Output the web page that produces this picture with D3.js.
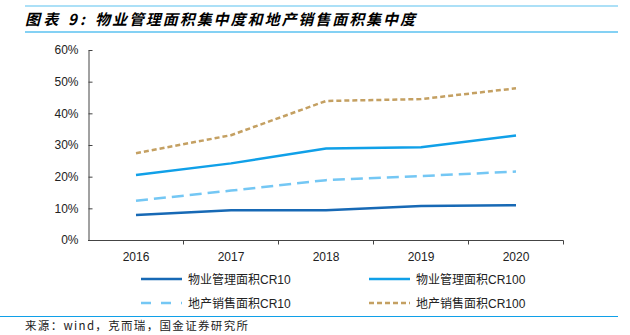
<!DOCTYPE html>
<html><head><meta charset="utf-8">
<script src="https://cdn.jsdelivr.net/npm/d3@7"></script>
<style>body{margin:0;background:#fff;} svg{display:block;}</style>
</head><body>
<svg id="c" width="630" height="335"></svg>
<script>
const years = ["2016","2017","2018","2019","2020"];
const pmCR10 = [7.9, 9.4, 9.4, 10.7, 11.0];
const pmCR100 = [20.5, 24.2, 28.9, 29.3, 33.0];
const reCR10 = [12.4, 15.6, 18.9, 20.2, 21.6];
const reCR100 = [27.4, 33.1, 43.9, 44.5, 47.9];
const yTicks = [0, 10, 20, 30, 40, 50, 60];
const seriesNames = ["物业管理面积CR10","物业管理面积CR100","地产销售面积CR10","地产销售面积CR100"];

const series = [
  {name: seriesNames[0], values: pmCR10, color: "#1769B5", dash: null, width: 2.5},
  {name: seriesNames[1], values: pmCR100, color: "#10A0E8", dash: null, width: 2.5},
  {name: seriesNames[2], values: reCR10, color: "#74C7F4", dash: "12,6", width: 2.5},
  {name: seriesNames[3], values: reCR100, color: "#C4A062", dash: "5,3", width: 2.5}
];

const svg = d3.select("#c");
const font = "Liberation Sans, Arial, 'Noto Sans CJK SC', sans-serif";
const cjk = "'Noto Sans CJK SC', sans-serif";

// header rules
svg.append("line").attr("x1",25).attr("x2",618).attr("y1",6).attr("y2",6).attr("stroke","#5BC2F0").attr("stroke-width",1.2);
svg.append("line").attr("x1",25).attr("x2",618).attr("y1",32).attr("y2",32).attr("stroke","#5BC2F0").attr("stroke-width",1.5);
svg.append("text").attr("x",25).attr("y",25).attr("font-family",cjk).attr("font-size",15).attr("font-weight","bold").attr("font-style","italic").attr("fill","#000").attr("textLength",60).attr("lengthAdjust","spacing").text("图表 9:");
svg.append("text").attr("x",95).attr("y",25).attr("font-family",cjk).attr("font-size",15).attr("font-weight","bold").attr("font-style","italic").attr("fill","#000").attr("textLength",320).attr("lengthAdjust","spacing").text("物业管理面积集中度和地产销售面积集中度");

const x = d3.scaleBand().domain(years).range([88.5, 563.5]);
const y = d3.scaleLinear().domain([0, 60]).range([240, 50]);

const g = svg.append("g");
// y axis
const yAxis = d3.axisLeft(y).tickValues(yTicks).tickFormat(d => d + "%").tickSize(4).tickSizeOuter(0);
const ya = g.append("g").attr("transform","translate(88.5,0)").call(yAxis);
ya.selectAll("text").attr("font-family",font).attr("font-size",12).attr("fill","#222").attr("dx","-3");
ya.selectAll("line").attr("stroke","#444");
ya.select(".domain").attr("stroke","#444").attr("d","M0.5,50.5V240.5");
ya.selectAll(".tick line").attr("x1",0).attr("x2",4);

// x axis
const xa = g.append("g").attr("transform","translate(0,240.5)");
xa.append("line").attr("x1",88).attr("x2",563.5).attr("y1",0).attr("y2",0).attr("stroke","#444").attr("stroke-width",1.2);
const bounds = years.map(d => x(d) + x.bandwidth());
xa.selectAll(".tk").data(bounds).enter().append("line").attr("x1",d=>d).attr("x2",d=>d).attr("y1",0).attr("y2",4).attr("stroke","#444");
xa.selectAll(".lb").data(years).enter().append("text").attr("x",d=>x(d)+x.bandwidth()/2).attr("y",20).attr("text-anchor","middle").attr("font-family",font).attr("font-size",12).attr("fill","#222").text(d=>d);

const line = d3.line().x((d,i)=>x(years[i])+x.bandwidth()/2).y(d=>y(d));
series.forEach(s => {
  g.append("path").attr("d", line(s.values)).attr("fill","none").attr("stroke",s.color).attr("stroke-width",s.width).attr("stroke-dasharray",s.dash);
});

// legend
const legPos = [[141,279],[369,279],[141,303],[369,303]];
series.forEach((s,i) => {
  const [lx, ly] = legPos[i];
  svg.append("line").attr("x1",lx).attr("x2",lx+41).attr("y1",ly).attr("y2",ly).attr("stroke",s.color).attr("stroke-width",2.5).attr("stroke-dasharray", i===2 ? "10,10" : s.dash);
  svg.append("text").attr("x",lx+47).attr("y",ly+4.5).attr("font-family",font).attr("font-size",12).attr("fill","#222").text(s.name);
});

// bottom rule and source
svg.append("line").attr("x1",0).attr("x2",618).attr("y1",316.5).attr("y2",316.5).attr("stroke","#10A0E8").attr("stroke-width",1.2);
svg.append("text").attr("x",25).attr("y",330).attr("font-family",cjk).attr("font-size",11.5).attr("fill","#222").attr("textLength",223).attr("lengthAdjust","spacing").text("来源：wind，克而瑞，国金证券研究所");
</script>
</body></html>
